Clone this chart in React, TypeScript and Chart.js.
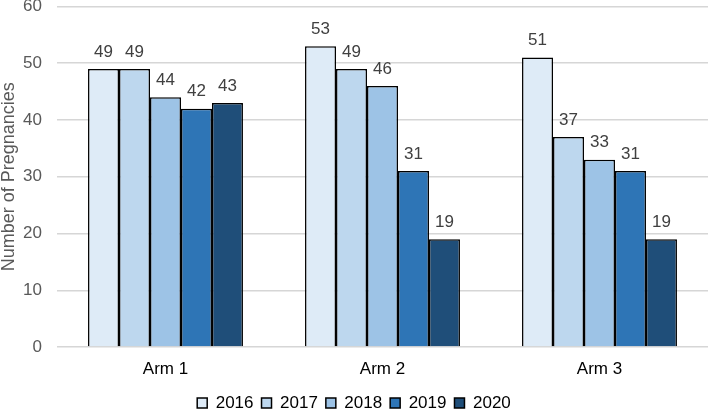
import React, { useEffect, useRef } from "react";
import { Chart, registerables } from "chart.js";

Chart.register(...registerables);

const categories = ["Arm 1", "Arm 2", "Arm 3"];
const years = ["2016", "2017", "2018", "2019", "2020"];
const values2016 = [49, 53, 51];
const values2017 = [49, 49, 37];
const values2018 = [44, 46, 33];
const values2019 = [42, 31, 31];
const values2020 = [43, 19, 19];
const yTicks = [0, 10, 20, 30, 40, 50, 60];
const colors = ["#DEEBF7", "#BDD7EE", "#9DC3E6", "#2E75B6", "#1F4E79"];

const FONT = "'Liberation Sans', Arial, Helvetica, sans-serif";

const labelPlugin = {
  id: "barLabels",
  afterDatasetsDraw(chart: any) {
    const ctx = chart.ctx;
    ctx.save();
    ctx.font = `17px ${FONT}`;
    ctx.fillStyle = "#404040";
    ctx.textAlign = "center";
    ctx.textBaseline = "middle";
    chart.data.datasets.forEach((ds: any, i: number) => {
      const meta = chart.getDatasetMeta(i);
      meta.data.forEach((bar: any, j: number) => {
        ctx.fillText(String(ds.data[j]), bar.x, bar.y - 17);
      });
    });
    ctx.restore();
  },
};

export default function App() {
  const ref = useRef<HTMLCanvasElement>(null);
  useEffect(() => {
    document.body.style.margin = "0";
    const series = [values2016, values2017, values2018, values2019, values2020];
    const chart = new Chart(ref.current!, {
      type: "bar",
      data: {
        labels: categories,
        datasets: years.map((y, i) => ({
          label: y,
          data: series[i],
          backgroundColor: colors[i],
          borderColor: "#000000",
          borderWidth: 1.5,
          categoryPercentage: 0.714,
          barPercentage: 1,
        })),
      },
      options: {
        animation: false,
        responsive: false,
        maintainAspectRatio: false,
        layout: { padding: { top: 0, right: 0, left: 0, bottom: -12.5 } },
        plugins: {
          legend: {
            position: "bottom",
            labels: {
              font: { family: FONT, size: 17, lineHeight: 1 },
              color: "#000000",
              boxWidth: 10,
              boxHeight: 10,
              padding: 8,
            },
          },
          tooltip: { enabled: false },
        },
        scales: {
          x: {
            grid: { display: false, drawTicks: false },
            border: { display: false },
            ticks: { font: { family: FONT, size: 17, lineHeight: 1 }, color: "#000000", padding: 13.5 },
            afterFit: (axis: any) => {
              axis.height = 39.5;
              axis.paddingLeft = 0;
              axis.paddingRight = 0;
            },
          },
          y: {
            min: 0,
            max: 60,
            afterBuildTicks: (axis: any) => {
              axis.ticks = yTicks.map((v) => ({ value: v }));
            },
            grid: { color: "#d6d6d6", lineWidth: 1.5, drawTicks: false },
            border: { display: false },
            ticks: { font: { family: FONT, size: 17, lineHeight: 1 }, color: "#595959", padding: 15 },
            title: {
              display: true,
              text: "Number of Pregnancies",
              font: { family: FONT, size: 18, lineHeight: 1 },
              color: "#595959",
              padding: 0,
            },
            afterFit: (axis: any) => {
              axis.width = 57;
              axis.paddingTop = 6.5;
              axis.paddingBottom = 0;
            },
          },
        },
      },
      plugins: [labelPlugin],
    });
    return () => chart.destroy();
  }, []);
  return <canvas ref={ref} width={708} height={409} style={{ display: "block" }} />;
}
